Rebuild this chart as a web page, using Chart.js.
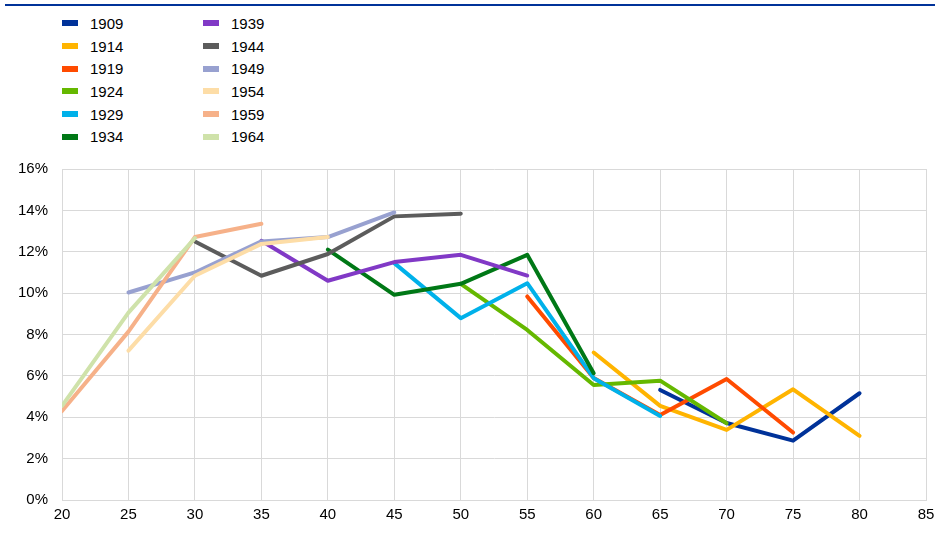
<!DOCTYPE html>
<html>
<head>
<meta charset="utf-8">
<script src="https://cdn.jsdelivr.net/npm/chart.js@4/dist/chart.umd.min.js"></script>
<style>
  html, body { margin: 0; padding: 0; background: #fff; }
  #wrap { position: relative; width: 935px; height: 541px; overflow: hidden; }
  #topline { position: absolute; left: 5px; top: 4px; width: 930px; height: 2px; background: #003299; }
  #legend { position: absolute; left: 62px; top: 12px; display: grid; grid-template-columns: 141px 140px;
            grid-auto-flow: column; grid-template-rows: repeat(6, 22.7px);
            font-family: "Liberation Sans", Arial, sans-serif; font-size: 15px; color: #000; }
  #legend div { display: flex; align-items: center; }
  #legend span.box { display: inline-block; width: 16px; height: 6px; margin-right: 12px; }
  canvas { position: absolute; left: 0; top: 0; }
</style>
</head>
<body>
<div id="wrap">
  <div id="topline"></div>
  <div id="legend"></div>
  <canvas id="chart" width="935" height="541"></canvas>
</div>
<script>
// ages on the x axis
const ages = [20, 25, 30, 35, 40, 45, 50, 55, 60, 65, 70, 75, 80];
const cohorts = ['1909','1914','1919','1924','1929','1934','1939','1944','1949','1954','1959','1964'];
const colors = ['#003299','#ffb400','#ff4b00','#65b800','#00b1ea','#007816','#8139c6','#5c5c5c','#98a1d0','#fdddA7','#f6b189','#cfe2aa'];
const yTicks = [0, 2, 4, 6, 8, 10, 12, 14, 16];

// values in %, one per age (null = no data)
const s1909 = [null,null,null,null,null,null,null,null,null,5.32,3.72,2.87,5.16];
const s1914 = [null,null,null,null,null,null,null,null,7.13,4.55,3.39,5.35,3.10];
const s1919 = [null,null,null,null,null,null,null,9.84,5.90,4.11,5.85,3.26,null];
const s1924 = [null,null,null,null,null,null,10.45,8.22,5.56,5.77,3.71,null,null];
const s1929 = [null,null,null,null,null,11.45,8.79,10.48,5.89,4.06,null,null,null];
const s1934 = [null,null,null,null,12.10,9.92,10.45,11.85,6.13,null,null,null,null];
const s1939 = [null,null,null,12.53,10.60,11.50,11.85,10.85,null,null,null,null,null];
const s1944 = [null,null,12.50,10.84,11.89,13.71,13.84,null,null,null,null,null,null];
const s1949 = [null,10.03,11.00,12.50,12.71,13.90,null,null,null,null,null,null,null];
const s1954 = [null,7.22,10.84,12.38,12.71,null,null,null,null,null,null,null,null];
const s1959 = [4.30,8.14,12.71,13.35,null,null,null,null,null,null,null,null,null];
const s1964 = [4.55,9.06,12.66,null,null,null,null,null,null,null,null,null,null];

const series = [s1909,s1914,s1919,s1924,s1929,s1934,s1939,s1944,s1949,s1954,s1959,s1964];

const datasets = series.map((vals, i) => ({
    label: cohorts[i],
    data: ages.map((a, j) => ({x: a, y: vals[j]})).filter(p => p.y !== null),
    borderColor: colors[i],
    backgroundColor: colors[i],
    borderWidth: 4,
    pointRadius: 0,
    borderCapStyle: 'round',
    borderJoinStyle: 'round',
    tension: 0,
    order: -i
}));

// html legend in two columns
const legendEl = document.getElementById('legend');
cohorts.forEach((c, i) => {
    const d = document.createElement('div');
    d.innerHTML = '<span class="box" style="background:' + colors[i] + '"></span>' + c;
    legendEl.appendChild(d);
});

const font = {family: '"Liberation Sans", Arial, sans-serif', size: 15};

new Chart(document.getElementById('chart').getContext('2d'), {
    type: 'line',
    data: {datasets: datasets},
    options: {
        responsive: false,
        animation: false,
        layout: {padding: {top: 169, right: 9, left: 0, bottom: 0}},
        plugins: {legend: {display: false}, tooltip: {enabled: false}},
        scales: {
            x: {
                type: 'linear', min: 20, max: 85,
                ticks: {stepSize: 5, color: '#000', font: font, padding: 6, maxRotation: 0},
                grid: {color: '#d9d9d9', lineWidth: 1, drawTicks: false},
                border: {color: '#d9d9d9'},
                afterFit: s => { s.height = 41; s.paddingRight = 0; s.paddingLeft = 0; }
            },
            y: {
                min: 0, max: 16,
                afterBuildTicks: s => { s.ticks = yTicks.map(v => ({value: v})); },
                ticks: {color: '#000', font: font, padding: 14, callback: v => v + '%'},
                grid: {color: '#d9d9d9', lineWidth: 1, drawTicks: false},
                border: {color: '#d9d9d9'},
                afterFit: s => { s.width = 62; s.paddingTop = 0; s.paddingBottom = 0; }
            }
        }
    }
});
</script>
</body>
</html>
